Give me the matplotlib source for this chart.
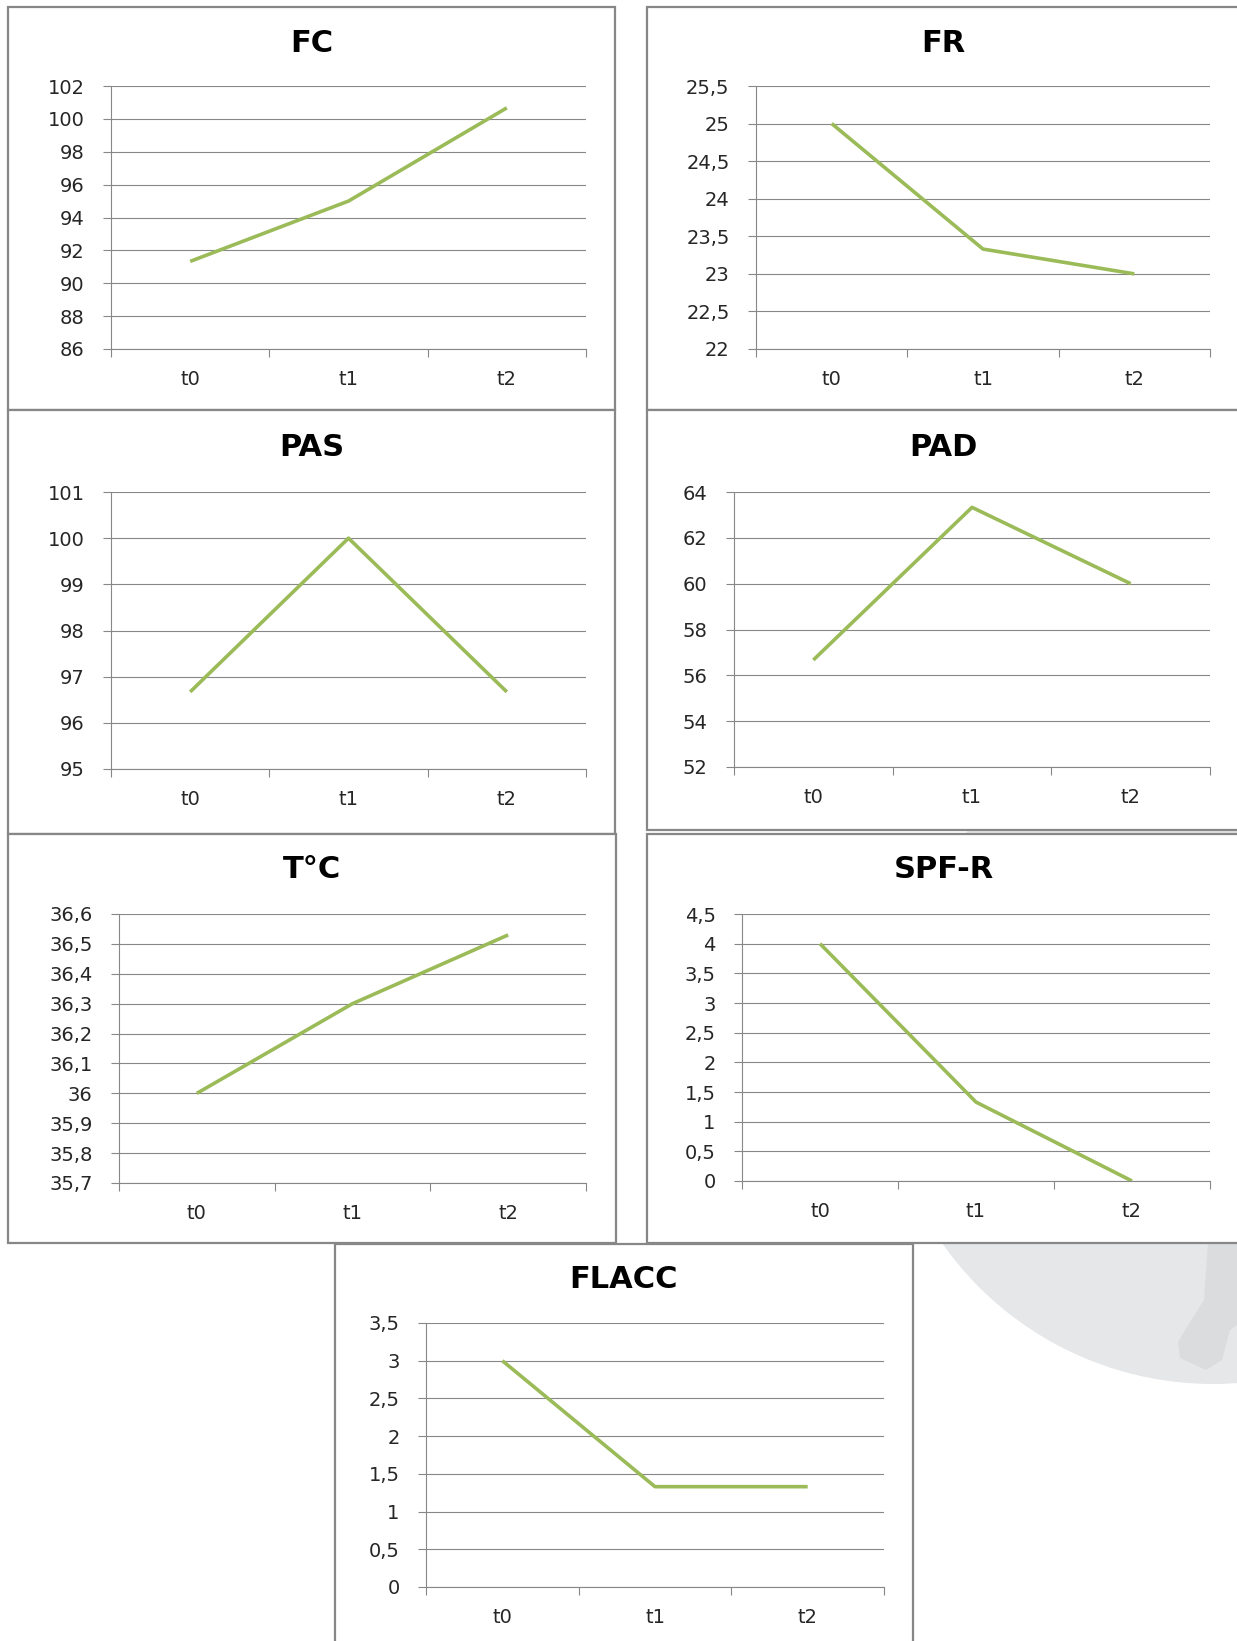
import matplotlib
matplotlib.use('Agg')
import matplotlib.pyplot as plt
from matplotlib.patches import Circle, Polygon, Rectangle
from matplotlib.ticker import FixedLocator, FuncFormatter, NullFormatter
import numpy as np

W, H = 1237, 1641
DPI = 100

GREEN = '#9BBB59'
GREY = '#878787'
TEXT = '#262626'

times = ['t0', 't1', 't2']

fc = [91.33, 95.0, 100.67]
fr = [25.0, 23.33, 23.0]
pas = [96.67, 100.0, 96.67]
pad = [56.67, 63.33, 60.0]
temp = [36.0, 36.3, 36.53]
spf_r = [4.0, 1.33, 0.0]
flacc = [3.0, 1.33, 1.33]

# title, values, y scale, frame box, plot box, title y  (boxes in pixels: left, top, right, bottom)
panels = [
    ('FC', fc, (86, 102, 2), (8, 7, 615, 410), (111, 86, 586, 349), 43),
    ('FR', fr, (22, 25.5, 0.5), (647, 7, 1245, 410), (756, 86, 1210, 349), 43),
    ('PAS', pas, (95, 101, 1), (8, 410, 615, 834), (111, 492, 586, 769), 448),
    ('PAD', pad, (52, 64, 2), (647, 410, 1245, 830), (734, 492, 1210, 767), 448),
    ('T°C', temp, (35.7, 36.6, 0.1), (8, 834, 616, 1243), (119, 914, 586, 1183), 870),
    ('SPF-R', spf_r, (0, 4.5, 0.5), (647, 834, 1245, 1243), (742, 914, 1210, 1181), 870),
    ('FLACC', flacc, (0, 3.5, 0.5), (335, 1244, 913, 1650), (426, 1323, 884, 1587), 1280),
]


def px_rect(l, t, r, b):
    return [l / W, 1 - b / H, (r - l) / W, (b - t) / H]


def comma(v, _pos=None):
    return ('%g' % round(v, 6)).replace('.', ',')


fig = plt.figure(figsize=(W / DPI, H / DPI), dpi=DPI)
plt.rcParams['font.family'] = ['DejaVu Sans']

# page background: faint logo and the chart frames
bg = fig.add_axes([0, 0, 1, 1])
bg.set_xlim(0, W)
bg.set_ylim(H, 0)
bg.axis('off')
bg.add_patch(Circle((1213, 1053), 331, facecolor='#E6E7E8', edgecolor='none'))
bg.add_patch(Polygon([(1208, 1243), (1204, 1300), (1190, 1322), (1178, 1342),
                      (1180, 1358), (1206, 1370), (1222, 1360), (1230, 1330),
                      (1237, 1325), (1237, 1243)],
                     closed=True, facecolor='#DBDCDE', edgecolor='none'))
for _, _, _, (l, t, r, b), _, _ in panels:
    bg.add_patch(Rectangle((l, t), r - l, b - t, facecolor='white',
                           edgecolor=GREY, lw=1.6))

x = np.arange(len(times)) + 0.5

for title, values, (y0, y1, step), frame, box, ty in panels:
    ax = fig.add_axes(px_rect(*box))
    ax.set_facecolor('none')
    ax.plot(x, values, color=GREEN, lw=2.6, solid_joinstyle='round',
            solid_capstyle='butt', zorder=3)

    ax.set_xlim(0, len(times))
    ax.set_ylim(y0, y1)
    yt = np.arange(y0, y1 + step / 2, step)
    ax.yaxis.set_major_locator(FixedLocator(yt))
    ax.yaxis.set_major_formatter(FuncFormatter(comma))
    ax.grid(axis='y', color=GREY, lw=0.8, zorder=1)

    ax.xaxis.set_major_locator(FixedLocator(np.arange(len(times) + 1)))
    ax.xaxis.set_major_formatter(NullFormatter())
    ax.xaxis.set_minor_locator(FixedLocator(x))
    ax.xaxis.set_minor_formatter(FuncFormatter(lambda v, p: times[int(v)]))

    ax.tick_params(axis='y', length=6, width=0.8, color=GREY, pad=13,
                   labelsize=14, labelcolor=TEXT)
    ax.tick_params(axis='x', which='major', length=6, width=0.8, color=GREY)
    ax.tick_params(axis='x', which='minor', length=0, pad=15,
                   labelsize=14, labelcolor=TEXT)

    for side in ('top', 'right'):
        ax.spines[side].set_visible(False)
    for side in ('left', 'bottom'):
        ax.spines[side].set_color(GREY)
        ax.spines[side].set_linewidth(0.8)

    cx = (frame[0] + min(frame[2], 1240)) / 2
    fig.text(cx / W, 1 - ty / H, title, ha='center', va='center',
             fontsize=22, fontweight='bold', color='black')

fig.savefig('out.png', dpi=DPI)
